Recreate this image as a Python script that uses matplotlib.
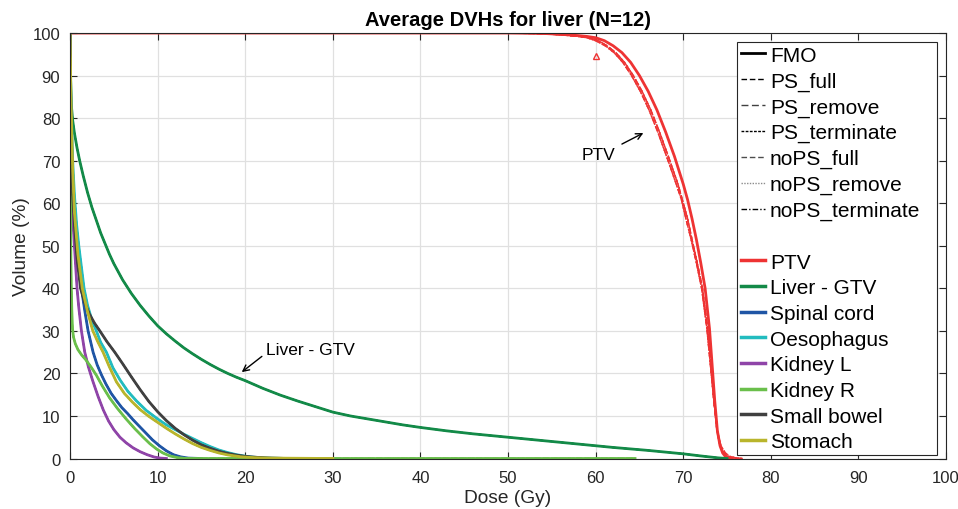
import numpy as np
import matplotlib
matplotlib.use("Agg")
import matplotlib.pyplot as plt
from matplotlib.lines import Line2D

plt.rcParams['font.family'] = ['Liberation Sans', 'DejaVu Sans']

# plan variants (line styles) and structures (colours)
plan_names = ['FMO', 'PS_full', 'PS_remove', 'PS_terminate',
              'noPS_full', 'noPS_remove', 'noPS_terminate']
structures = ['PTV', 'Liver - GTV', 'Spinal cord', 'Oesophagus',
              'Kidney L', 'Kidney R', 'Small bowel', 'Stomach']

# PTV: shared volume levels, dose read for FMO / PS / noPS plans
ptv_vol = [100, 100, 99.9, 99.7, 99.4, 99.2, 98.9, 98.2, 97.0, 95.4, 93.1,
           90.0, 86.3, 81.9, 76.7, 71.0, 64.5, 60.8, 56.4, 51.5, 46, 40,
           30.5, 22, 13.5, 6.5, 3, 1.3, 0.5, 0.15, 0]
ptv_dose_fmo = [0, 50, 54, 56, 58, 59, 60, 61, 62, 63, 64, 65, 66, 67, 68,
                69, 70, 70.5, 71, 71.5, 72, 72.5, 73, 73.3, 73.6, 73.9, 74.2,
                74.5, 74.8, 75.2, 75.6]
ptv_dose_ps = [0, 49, 53, 55.3, 57.3, 58.3, 59.3, 60.3, 61.3, 62.3, 63.3,
               64.3, 65.3, 66.3, 67.3, 68.3, 69.4, 69.9, 70.5, 71.0, 71.6,
               72.2, 72.8, 73.15, 73.5, 73.85, 74.2, 74.6, 75.0, 75.6, 76.3]
ptv_dose_nops = [0, 49, 53, 55, 57, 58, 59, 60, 61.1, 62.1, 63.1, 64.1,
                 65.1, 66.1, 67.1, 68.1, 69.2, 69.8, 70.3, 70.9, 71.5, 72.1,
                 72.7, 73.1, 73.5, 73.9, 74.3, 74.8, 75.3, 76.0, 76.8]

# organs at risk (dose, volume) - the plans overlap almost exactly
liver_dose = [0, 0.05, 0.15, 0.3, 0.5, 0.8, 1.1, 1.5, 2, 2.5, 3, 3.5, 4,
              4.5, 5, 6, 7, 8, 9, 10, 11, 12, 13, 14, 15, 16, 17, 18, 19, 20,
              22, 24, 26, 28, 30, 32, 34, 36, 38, 40, 43, 46, 50, 54, 58, 62,
              66, 70, 72, 74, 75]
liver_vol = [100, 90, 83, 79.5, 76.5, 73, 70, 66.5, 62.5, 59, 56, 53, 50.5,
             48, 45.8, 42, 38.8, 36, 33.5, 31.2, 29.3, 27.6, 26, 24.6, 23.3,
             22.1, 21, 20, 19.1, 18.3, 16.5, 14.9, 13.5, 12.2, 10.9, 10.0,
             9.3, 8.6, 7.9, 7.3, 6.5, 5.8, 5.0, 4.2, 3.4, 2.6, 1.9, 1.1, 0.6,
             0.15, 0]

cord_dose = [0, 0.1, 0.25, 0.4, 0.6, 0.9, 1.3, 1.7, 2.06, 2.63, 3.1, 3.6,
             4.1, 4.7, 5.3, 5.9, 6.6, 7.2, 7.9, 8.7, 9.4, 10.2, 11, 11.8,
             12.6, 13.5, 15]
cord_vol = [100, 80, 68, 60, 54, 47, 40, 34.5, 30, 25, 22, 19.6, 17.5, 15.3,
            13.6, 12, 10.5, 9.1, 7.6, 5.9, 4.4, 3, 1.8, 0.9, 0.4, 0.1, 0]

oeso_dose = [0, 0.1, 0.3, 0.5, 0.75, 1.0, 1.3, 1.6, 2.0, 2.5, 3.0, 3.5,
             4.15, 4.9, 5.7, 6.6, 7.6, 8.7, 10, 11, 12, 13, 14, 15, 16, 17,
             18, 19, 20, 21, 22.5, 25]
oeso_vol = [100, 85, 70, 62, 55, 50, 45, 40, 36, 32.5, 30, 27.3, 25, 21.3,
            18.5, 15.8, 13.5, 11.3, 9.3, 7.9, 6.8, 5.7, 4.7, 3.7, 2.8, 2.0,
            1.4, 0.9, 0.55, 0.3, 0.1, 0]

kidl_dose = [0, 0.05, 0.1, 0.2, 0.3, 0.5, 0.65, 0.8, 1.0, 1.3, 1.68, 2.1,
             2.6, 3.2, 3.8, 4.4, 5, 5.7, 6.4, 7.2, 8, 8.8, 9.6, 10.3, 11]
kidl_vol = [100, 85, 75, 64, 57, 50, 45, 40, 35.5, 30, 25, 21.5, 18.2, 14.6,
            11.4, 8.8, 6.8, 5.0, 3.7, 2.5, 1.6, 0.9, 0.35, 0.1, 0]

kidr_dose = [0, 0.02, 0.05, 0.1, 0.15, 0.2, 0.28, 0.4, 0.6, 0.9, 1.3, 1.8,
             2.4, 3, 3.7, 4.5, 5.4, 6.4, 7.4, 8.3, 9.1, 9.9, 10.6, 11.4,
             12.3, 13.3, 64.5]
kidr_vol = [100, 80, 62, 47, 40, 35, 30.5, 28.5, 27, 25.6, 24.4, 23.2, 21.5,
            19.6, 17, 14.3, 11.8, 9.3, 7, 5.1, 3.5, 2.2, 1.3, 0.6, 0.2, 0, 0]

bowel_dose = [0, 0.1, 0.3, 0.5, 0.8, 1.2, 1.7, 2.2, 2.8, 3.4, 4.2, 5.1, 6,
              7, 8, 9, 10, 11, 12, 13, 14, 15, 16, 17, 18, 19, 20, 21.5, 23,
              25]
bowel_vol = [100, 80, 62, 55, 47, 40, 36.5, 34, 31.8, 30, 27.5, 25, 22.3,
             19.2, 16.2, 13.4, 11, 8.9, 7.1, 5.6, 4.3, 3.2, 2.4, 1.7, 1.2,
             0.8, 0.5, 0.25, 0.1, 0]

stom_dose = [0, 0.1, 0.3, 0.5, 0.9, 1.4, 2, 2.6, 3.2, 3.77, 4.5, 5.3, 6.2,
             7.1, 8, 9, 10, 11, 12, 13, 14, 15, 16, 17, 18, 19.5, 21, 23, 30]
stom_vol = [100, 85, 68, 58, 48, 40, 34.5, 30, 27.3, 25, 21.5, 18, 15.3,
            13.3, 11.5, 9.9, 8.5, 7.1, 5.8, 4.6, 3.5, 2.6, 1.9, 1.3, 0.85,
            0.4, 0.2, 0.1, 0]

colors = ['#EE3333', '#138A48', '#1F55A5', '#22BCBF', '#8F44A8', '#6ABF4B',
          '#404040', '#B9B52C']

oar_data = [(liver_dose, liver_vol), (cord_dose, cord_vol),
            (oeso_dose, oeso_vol), (kidl_dose, kidl_vol),
            (kidr_dose, kidr_vol), (bowel_dose, bowel_vol),
            (stom_dose, stom_vol)]

styles = ['-', (0, (4, 2)), (0, (5, 2.5)), (0, (2, 1)), (0, (4, 2)),
          (0, (1, 1)), (0, (4, 1.5, 1, 1.5))]
legend_gray = ['k', 'k', '0.25', 'k', '0.3', '0.55', 'k']

fig = plt.figure(figsize=(9.58, 5.10), dpi=100)
ax = fig.add_axes([0.0731, 0.099, 0.9144, 0.8343])

# PTV
ptv_doses = [ptv_dose_fmo, ptv_dose_ps, ptv_dose_ps, ptv_dose_ps,
             ptv_dose_nops, ptv_dose_nops, ptv_dose_nops]
for i in range(len(plan_names)):
    lw = 2.0 if i == 0 else 1.0
    ax.plot(ptv_doses[i], ptv_vol, color=colors[0], ls=styles[i], lw=lw)

# OARs
for k, (d, v) in enumerate(oar_data):
    c = colors[k + 1]
    for i in range(len(plan_names)):
        lw = 2.0 if i == 0 else 1.0
        ax.plot(d, v, color=c, ls=styles[i], lw=lw)

ax.plot([60], [94.5], marker='^', ms=5, mfc='none', mec=colors[0], mew=1)

arrow = dict(arrowstyle='->', color='k', lw=1, mutation_scale=11,
             shrinkA=0, shrinkB=0)
ax.text(60.3, 71.5, 'PTV', fontsize=12.5, ha='center', va='center')
ax.annotate('', xy=(65.45, 76.5), xytext=(63.0, 73.9), arrowprops=arrow)
ax.text(22.4, 25.7, 'Liver - GTV', fontsize=12.5, ha='left', va='center')
ax.annotate('', xy=(19.6, 20.3), xytext=(21.9, 24.0), arrowprops=arrow)

ax.set_xlim(0, 100)
ax.set_ylim(0, 100)
ax.set_xticks(np.arange(0, 101, 10))
ax.set_yticks(np.arange(0, 101, 10))
ax.grid(True, color='0.88', lw=0.9)
ax.set_axisbelow(True)
ax.tick_params(direction='in', top=True, right=True, length=5,
               colors='0.15', labelsize=12, width=0.8)
ax.tick_params(axis='x', pad=8)
ax.tick_params(axis='y', pad=7)
for s in ax.spines.values():
    s.set_color('0.15')
    s.set_linewidth(0.8)

ax.set_xlabel('Dose (Gy)', fontsize=13.8, color='0.15', labelpad=3)
ax.set_ylabel('Volume (%)', fontsize=13.8, color='0.15', labelpad=2)
ax.set_title('Average DVHs for liver (N=12)', fontsize=14.5,
             fontweight='bold', pad=6)

handles = []
labels = []
for i, name in enumerate(plan_names):
    lw = 2.0 if i == 0 else 1.0
    handles.append(Line2D([], [], color=legend_gray[i], ls=styles[i], lw=lw))
    labels.append(name)
handles.append(Line2D([], [], color='none'))
labels.append(' ')
for name, c in zip(structures, colors):
    handles.append(Line2D([], [], color=c, lw=2.5))
    labels.append(name)

leg = ax.legend(handles, labels, loc='upper left', mode='expand',
                bbox_to_anchor=(0.761, 0.015, 0.229, 0.965), borderaxespad=0,
                fontsize=15, handlelength=1.15, handletextpad=0.25,
                labelspacing=0.32, borderpad=0.2, fancybox=False,
                framealpha=1, edgecolor='0.15')
leg.get_frame().set_linewidth(0.8)

fig.savefig('out.png', dpi=100)
